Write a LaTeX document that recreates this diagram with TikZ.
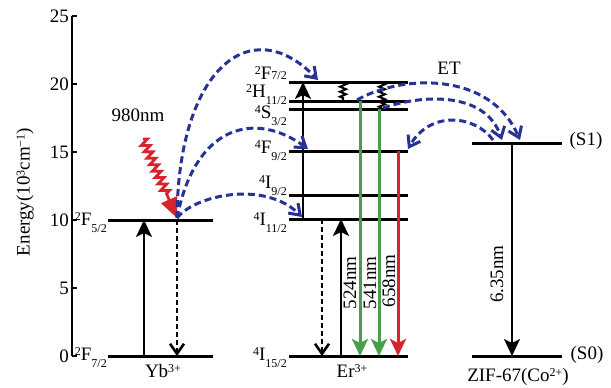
\documentclass[tikz,border=0pt]{standalone}
\usepackage{fontspec}
\setmainfont{Liberation Serif}
\usetikzlibrary{arrows.meta,decorations.pathmorphing}
\definecolor{etblue}{RGB}{40,50,150}
\definecolor{emgreen}{RGB}{70,160,70}
\definecolor{emred}{RGB}{215,35,45}
\newcommand\sps[1]{\raisebox{5pt}{\fontsize{12}{12}\selectfont #1}}
\newcommand\sbs[1]{\raisebox{-7pt}{\fontsize{12}{12}\selectfont #1}}
\newcommand\sbh[1]{\raisebox{0pt}{\fontsize{12}{12}\selectfont #1}}
\begin{document}
\begin{tikzpicture}[x=1pt,y=-1pt,
  every node/.style={font=\fontsize{19}{22}\selectfont, inner sep=0pt},
  lvl/.style={line width=3pt},
  lvlab/.style={anchor=base east},
  upar/.style={line width=2.6pt,-{Stealth[length=17pt,width=16pt,inset=4pt]}},
  dnar/.style={line width=2.6pt,dash pattern=on 5pt off 3pt,-{Straight Barb[length=10pt,width=14pt]}},
  emar/.style={line width=3pt,-{Stealth[length=17pt,width=16pt,inset=4pt]}},
  etar/.style={etblue,line width=3pt,dash pattern=on 7pt off 4pt,-{Straight Barb[length=10pt,width=14pt]}},
  wig/.style={line width=2pt,decorate,decoration={zigzag,segment length=5pt,amplitude=3pt}}
]
\useasboundingbox (0,0) rectangle (611,388);
% axis
\coordinate (axT) at (72,16);
\coordinate (axB) at (72,356);
\draw[line width=1.3pt] (axT) -- (axB);
\foreach \v/\yy in {0/356,5/288,10/220,15/152,20/84,25/16}{
  \draw[line width=1.3pt] (72,\yy) -- (77,\yy);
  \node[anchor=east] (tick\v) at (69,\yy) {\v};
}
\node[rotate=90] (ylab) at (25,192) {Energy(10\sps{3}cm\sps{−1})};
% Yb levels
\coordinate (ybHL) at (108,220); \coordinate (ybHR) at (213,220);
\coordinate (ybGL) at (108,356); \coordinate (ybGR) at (213,356);
\draw[lvl] (ybHL) -- (ybHR);
\draw[lvl] (ybGL) -- (ybGR);
\node[lvlab] (ybHlab) at (107,225) {\sps{2}F\sbs{5/2}};
\node[lvlab] (ybGlab) at (107,360) {\sps{2}F\sbs{7/2}};
\node (ybname) at (163,371) {Yb\sps{3+}};
% Er levels
\foreach \n/\yy in {a/82,b/101,c/109,d/151,e/195,f/219,g/356}{
  \coordinate (er\n L) at (289,\yy);
  \coordinate (er\n R) at (408,\yy);
  \draw[lvl] (er\n L) -- (er\n R);
}
\node[lvlab] (eralab) at (287,79) {\sps{2}F\sbh{7/2}};
\node[lvlab] (erblab) at (287,97) {\sps{2}H\sbs{11/2}};
\node[lvlab] (erclab) at (287,118) {\sps{4}S\sbs{3/2}};
\node[lvlab] (erdlab) at (287,153) {\sps{4}F\sbs{9/2}};
\node[lvlab] (erelab) at (287,188) {\sps{4}I\sbs{9/2}};
\node[lvlab] (erflab) at (287,225) {\sps{4}I\sbs{11/2}};
\node[lvlab] (erglab) at (287,360) {\sps{4}I\sbs{15/2}};
\node (ername) at (352,371) {Er\sps{3+}};
% ZIF levels
\coordinate (s1L) at (472,143); \coordinate (s1R) at (562,143);
\coordinate (s0L) at (472,356); \coordinate (s0R) at (562,356);
\draw[lvl] (s1L) -- (s1R);
\draw[lvl] (s0L) -- (s0R);
\node (s1lab) at (586,141) {(S1)};
\node (s0lab) at (587,355) {(S0)};
\node (zifname) at (518,377) {ZIF-67(Co\sps{2+})};
% Yb transitions
\coordinate (ybUpB) at (144,356); \coordinate (ybUpT) at (144,220);
\draw[upar] (ybUpB) -- (ybUpT);
\coordinate (ybDnT) at (177,220); \coordinate (ybDnB) at (177,356);
\draw[dnar] (ybDnT) -- (ybDnB);
% 980 nm pump
\coordinate (pumpS) at (143,139);
\coordinate (ybA) at (177,218);
\draw[emred,line width=2.8pt,decorate,decoration={zigzag,segment length=7pt,amplitude=4pt,post=lineto,post length=24pt},-{Triangle[length=20pt,width=17pt]}] (pumpS) -- (ybA);
\node (pumplab) at (138,115) {980nm};
% Er transitions
\coordinate (erU1B) at (303,219); \coordinate (erU1T) at (303,82);
\draw[upar] (erU1B) -- (erU1T);
\coordinate (erU2B) at (341,356); \coordinate (erU2T) at (341,219);
\draw[upar] (erU2B) -- (erU2T);
\coordinate (erDnT) at (322,219); \coordinate (erDnB) at (322,356);
\draw[dnar] (erDnT) -- (erDnB);
\coordinate (g1T) at (360,101); \coordinate (g1B) at (360,356);
\coordinate (g2T) at (379,109); \coordinate (g2B) at (379,356);
\coordinate (rT) at (398,151); \coordinate (rB) at (398,356);
\draw[emar,emgreen] (g1T) -- (g1B);
\draw[emar,emgreen] (g2T) -- (g2B);
\draw[emar,emred] (rT) -- (rB);
\node[rotate=90] (l524) at (350,283) {524nm};
\node[rotate=90] (l541) at (370,283) {541nm};
\node[rotate=90] (l658) at (389,281) {658nm};
% nonradiative wiggles
\coordinate (w1T) at (343,83); \coordinate (w1B) at (343,100);
\coordinate (w2T) at (382,83); \coordinate (w2B) at (382,108);
\draw[wig] (w1T) -- (w1B);
\draw[wig] (w2T) -- (w2B);
% ZIF transition
\coordinate (zT) at (512,143); \coordinate (zB) at (512,356);
\draw[upar] (zT) -- (zB);
\node[rotate=90] (l635) at (497,274) {6.35nm};
% energy transfer
\coordinate (et1E) at (318,80);
\coordinate (et2E) at (308,149);
\coordinate (et3E) at (302,217);
\draw[etar] (ybA) .. controls (178,70) and (250,10) .. (et1E);
\draw[etar] (ybA) .. controls (195,125) and (255,110) .. (et2E);
\draw[etar] (ybA) .. controls (195,195) and (265,180) .. (et3E);
\coordinate (et4S) at (357,100); \coordinate (et4E) at (520,140);
\coordinate (et5S) at (383,108); \coordinate (et5E) at (502,140);
\coordinate (et6S) at (493,140); \coordinate (et6E) at (408,149);
\draw[etar] (et4S) .. controls (400,75) and (490,70) .. (et4E);
\draw[etar] (et5S) .. controls (420,95) and (485,90) .. (et5E);
\draw[etar] (et6S) .. controls (475,115) and (430,110) .. (et6E);
\node (etlab) at (449,68) {ET};
\end{tikzpicture}
\end{document}
